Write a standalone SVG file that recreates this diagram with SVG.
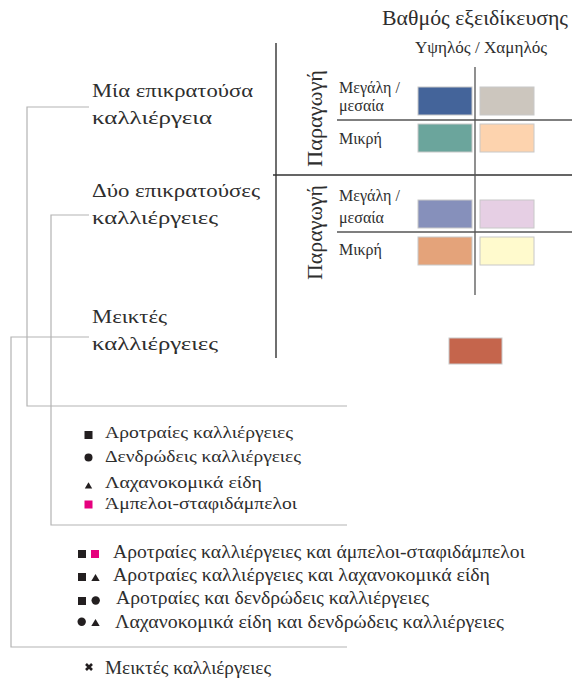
<svg xmlns="http://www.w3.org/2000/svg" width="572" height="680" viewBox="0 0 572 680">
<style>
text{font-family:"Liberation Serif","Times New Roman",serif;fill:#2e2e2e}
.h1{font-size:20px}
.h2{font-size:16px}
.cat{font-size:19px}
.lab{font-size:16px}
.par{font-size:22px}
.lg{font-size:17px}
.lg2{font-size:18px}
.axis{stroke:#333;stroke-width:1.4;fill:none}
.grid{stroke:#555;stroke-width:1.3;fill:none}
.conn{stroke:#b3b3b3;stroke-width:1.2;fill:none}
.cell{stroke:#c8c8c8;stroke-width:1}
.sym{fill:#231f20}
.mag{fill:#e6007e}
</style>
<g id="header">
<text class="h1" x="382" y="25" textLength="186" lengthAdjust="spacingAndGlyphs">Βαθμός εξειδίκευσης</text>
<text class="h2" x="415" y="53" textLength="132" lengthAdjust="spacingAndGlyphs">Υψηλός / Χαμηλός</text>
</g>
<g id="axes">
<path class="axis" d="M276,43V358M273,175H572"/>
<path class="grid" d="M475,67V295M337,120H572M337,232H572"/>
</g>
<g id="production1">
<text class="par" transform="translate(322,167) rotate(-90)" textLength="97" lengthAdjust="spacingAndGlyphs">Παραγωγή</text>
<text class="lab" x="339" y="93">Μεγάλη /</text>
<text class="lab" x="339" y="111">μεσαία</text>
<text class="lab" x="339" y="144">Μικρή</text>
</g>
<g id="production2">
<text class="par" transform="translate(322,280) rotate(-90)" textLength="95" lengthAdjust="spacingAndGlyphs">Παραγωγή</text>
<text class="lab" x="339" y="201">Μεγάλη /</text>
<text class="lab" x="339" y="223">μεσαία</text>
<text class="lab" x="339" y="255">Μικρή</text>
</g>
<g id="cells">
<rect class="cell" x="418" y="87" width="54" height="28" fill="#44649a"/>
<rect class="cell" x="480" y="87" width="54" height="28" fill="#ccc6be"/>
<rect class="cell" x="418" y="124" width="54" height="28" fill="#6ba59c"/>
<rect class="cell" x="480" y="124" width="54" height="28" fill="#fdd3ae"/>
<rect class="cell" x="418" y="200" width="54" height="28" fill="#8690bb"/>
<rect class="cell" x="480" y="200" width="54" height="28" fill="#e6cfe4"/>
<rect class="cell" x="418" y="237" width="54" height="28" fill="#e4a37a"/>
<rect class="cell" x="480" y="237" width="54" height="28" fill="#fffacd"/>
<rect class="cell" x="449" y="338" width="53" height="26" fill="#c5654c"/>
</g>
<g id="connectors">
<path class="conn" d="M89,107H27V406H347"/>
<path class="conn" d="M89,215H51V525H347"/>
<path class="conn" d="M89,337H11V647H347"/>
</g>
<g id="cat-one">
<text class="cat" x="92" y="97" textLength="161" lengthAdjust="spacingAndGlyphs">Μία επικρατούσα</text>
<text class="cat" x="92" y="124" textLength="120" lengthAdjust="spacingAndGlyphs">καλλιέργεια</text>
</g>
<g id="cat-two">
<text class="cat" x="92" y="197" textLength="168" lengthAdjust="spacingAndGlyphs">Δύο επικρατούσες</text>
<text class="cat" x="92" y="224" textLength="126" lengthAdjust="spacingAndGlyphs">καλλιέργειες</text>
</g>
<g id="cat-mixed">
<text class="cat" x="92" y="323" textLength="75" lengthAdjust="spacingAndGlyphs">Μεικτές</text>
<text class="cat" x="92" y="350" textLength="126" lengthAdjust="spacingAndGlyphs">καλλιέργειες</text>
</g>
<g id="legend-one">
<rect class="sym" x="84.5" y="431" width="8" height="8"/>
<text class="lg" x="105" y="438" textLength="188" lengthAdjust="spacingAndGlyphs">Αροτραίες καλλιέργειες</text>
<circle class="sym" cx="88.5" cy="457.5" r="4"/>
<text class="lg" x="105" y="462" textLength="196" lengthAdjust="spacingAndGlyphs">Δενδρώδεις καλλιέργειες</text>
<path class="sym" d="M84.8,488.5H92.2L88.5,482.3Z"/>
<text class="lg" x="105" y="488" textLength="157" lengthAdjust="spacingAndGlyphs">Λαχανοκομικά είδη</text>
<rect class="mag" x="84.5" y="500.5" width="8" height="8"/>
<text class="lg" x="105" y="509" textLength="192" lengthAdjust="spacingAndGlyphs">Άμπελοι-σταφιδάμπελοι</text>
</g>
<g id="legend-two">
<rect class="sym" x="78" y="550" width="8" height="8"/>
<rect class="mag" x="91" y="550" width="8" height="8"/>
<text class="lg2" x="113" y="558" textLength="412" lengthAdjust="spacingAndGlyphs">Αροτραίες καλλιέργειες και άμπελοι-σταφιδάμπελοι</text>
<rect class="sym" x="78" y="573" width="8" height="8"/>
<path class="sym" d="M91.3,581H99.7L95.5,574Z"/>
<text class="lg2" x="113" y="581" textLength="377" lengthAdjust="spacingAndGlyphs">Αροτραίες καλλιέργειες και λαχανοκομικά είδη</text>
<rect class="sym" x="78" y="597" width="8" height="8"/>
<circle class="sym" cx="95.7" cy="600.5" r="4.2"/>
<text class="lg2" x="116" y="604" textLength="313" lengthAdjust="spacingAndGlyphs">Αροτραίες και δενδρώδεις καλλιέργειες</text>
<circle class="sym" cx="81.7" cy="621.7" r="4.2"/>
<path class="sym" d="M91.3,626H99.7L95.5,619Z"/>
<text class="lg2" x="115" y="628" textLength="389" lengthAdjust="spacingAndGlyphs">Λαχανοκομικά είδη και δενδρώδεις καλλιέργειες</text>
</g>
<g id="legend-mixed">
<path d="M86,664L92,670M92,664L86,670" stroke="#231f20" stroke-width="2.6"/>
<text class="lg2" x="105" y="674" textLength="166" lengthAdjust="spacingAndGlyphs">Μεικτές καλλιέργειες</text>
</g>
</svg>
